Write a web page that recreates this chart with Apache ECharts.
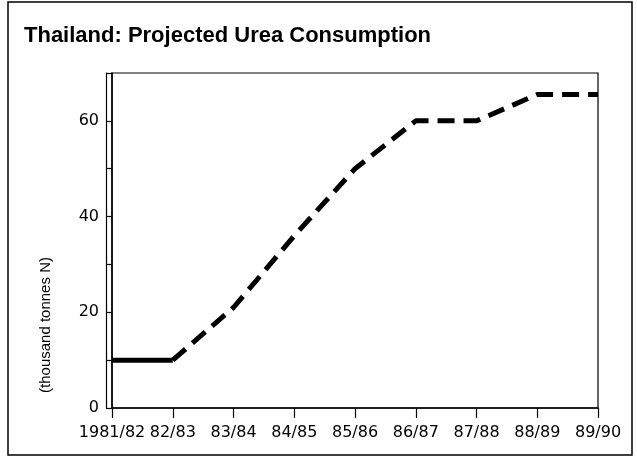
<!DOCTYPE html>
<html>
<head>
<meta charset="utf-8">
<script src="https://cdn.jsdelivr.net/npm/echarts@6/dist/echarts.min.js"></script>
<style>html,body{margin:0;padding:0;background:#fff}#c{width:637px;height:459px}</style>
</head>
<body>
<div id="c"></div>
<script>
const categories = ['1981/82','82/83','83/84','84/85','85/86','86/87','87/88','88/89','89/90'];
const consumption = [10, 10, 21, 36, 50, 60, 60, 65.5, 65.5];
const titleText = 'Thailand: Projected Urea Consumption';
const yName = '(thousand tonnes N)';

// Solid for the first period, dashed projection afterwards
const solidPart = consumption.map((v, i) => i <= 1 ? v : '-');
const dashedPart = consumption.map((v, i) => i >= 1 ? v : '-');

const chart = echarts.init(document.getElementById('c'), null, {renderer: 'canvas'});
const font = 'DejaVu Sans';
chart.setOption({
  animation: false,
  backgroundColor: '#fff',
  title: {
    text: titleText, left: 19, top: 20,
    textStyle: {fontFamily: 'Liberation Sans', fontWeight: 'bold', fontSize: 22, color: '#000'}
  },
  graphic: [
    {type: 'rect', shape: {x: 8, y: 2, width: 624, height: 453},
     style: {fill: 'none', stroke: '#000', lineWidth: 1.5}, silent: true},
    {type: 'text', x: 46, y: 325, rotation: Math.PI / 2,
     style: {text: yName, fontFamily: 'Liberation Sans', fontSize: 15, fill: '#000',
             textAlign: 'center', textVerticalAlign: 'middle'}}
  ],
  grid: {left: 112, right: 39, top: 73, bottom: 51, show: true, borderColor: '#000', borderWidth: 1.2},
  xAxis: {
    type: 'category', data: categories, boundaryGap: false,
    axisLine: {lineStyle: {color: '#000', width: 1.5}},
    axisTick: {show: true, length: 10, lineStyle: {color: '#000', width: 1.2}, alignWithLabel: true},
    axisLabel: {color: '#000', fontFamily: font, fontSize: 16, margin: 17, interval: 0},
    splitLine: {show: false}
  },
  yAxis: [{
    type: 'value', min: 0, max: 70, interval: 10,
    axisLine: {show: true, lineStyle: {color: '#000', width: 1.5}},
    axisTick: {show: true, length: 6, lineStyle: {color: '#000', width: 1.2}},
    axisLabel: {color: '#000', fontFamily: font, fontSize: 16, margin: 13, interval: 1,
                formatter: v => (v % 20 === 0 && v < 70) ? String(v) : ''},
    splitLine: {show: false}
  }, {
    type: 'value', min: 0, max: 70, interval: 10, position: 'left', offset: 6,
    axisLine: {show: true, lineStyle: {color: '#000', width: 1.2}},
    axisTick: {show: false}, axisLabel: {show: false}, splitLine: {show: false}
  }],
  series: [
    {type: 'line', data: solidPart, symbol: 'none', yAxisIndex: 0,
     lineStyle: {color: '#000', width: 5, type: 'solid'}},
    {type: 'line', data: dashedPart, symbol: 'none', yAxisIndex: 0,
     lineStyle: {color: '#000', width: 5, type: [17, 9], cap: 'butt'}}
  ]
});
</script>
</body>
</html>
